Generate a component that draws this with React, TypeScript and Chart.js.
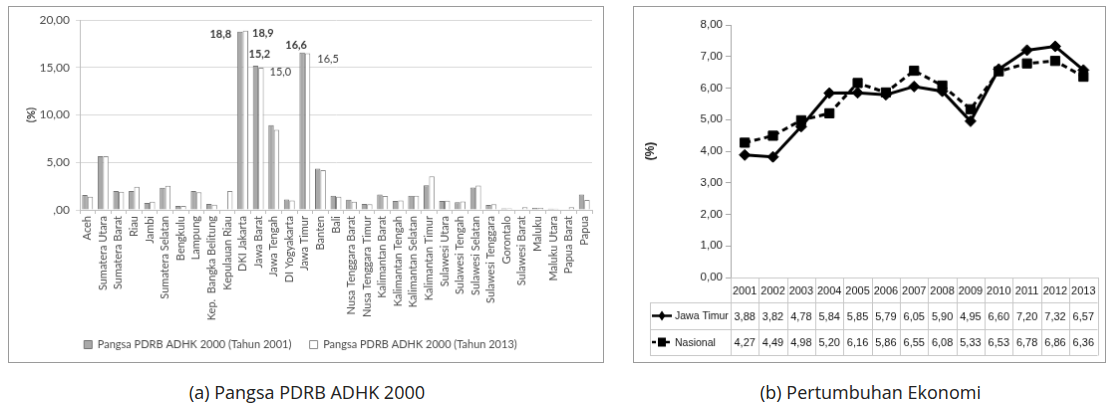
import React, { useEffect, useRef } from 'react';
import { Chart, registerables } from 'chart.js';

Chart.register(...registerables);

// ---- Chart (a): Pangsa PDRB ADHK 2000 ----
const PROVINCES = [
  'Aceh', 'Sumatera Utara', 'Sumatera Barat', 'Riau', 'Jambi', 'Sumatera Selatan', 'Bengkulu',
  'Lampung', 'Kep.  Bangka Belitung', 'Kepulauan Riau', 'DKI Jakarta', 'Jawa Barat', 'Jawa Tengah',
  'DI Yogyakarta', 'Jawa Timur', 'Banten', 'Bali', 'Nusa Tenggara Barat', 'Nusa Tenggara Timur',
  'Kalimantan Barat', 'Kalimantan Tengah', 'Kalimantan Selatan', 'Kalimantan Timur', 'Sulawesi Utara',
  'Sulawesi Tengah', 'Sulawesi Selatan', 'Sulawesi Tenggara', 'Gorontalo', 'Sulawesi Barat', 'Maluku',
  'Maluku Utara', 'Papua Barat', 'Papua',
];
const PANGSA_2001 = [
  1.57, 5.67, 2.0, 2.0, 0.73, 2.33, 0.42, 2.0, 0.63, null, 18.8, 15.2, 8.94, 1.11, 16.6, 4.35, 1.5,
  1.08, 0.63, 1.63, 0.94, 1.5, 2.6, 0.94, 0.8, 2.37, 0.52, 0.17, null, 0.2, 0.12, null, 1.63,
];
const PANGSA_2013 = [
  1.4, 5.67, 1.9, 2.43, 0.87, 2.54, 0.42, 1.85, 0.56, 2.0, 18.9, 15.0, 8.45, 1.0, 16.5, 4.2, 1.4,
  0.87, 0.6, 1.46, 1.0, 1.5, 3.55, 0.97, 0.9, 2.57, 0.6, 0.17, 0.28, 0.2, 0.12, 0.3, 1.04,
];
const LABEL_2001 = 'Pangsa PDRB ADHK 2000 (Tahun 2001)';
const LABEL_2013 = 'Pangsa PDRB ADHK 2000 (Tahun 2013)';
const LABELLED_PROVINCES = ['DKI Jakarta', 'Jawa Barat', 'Jawa Timur'];

// ---- Chart (b): Pertumbuhan Ekonomi ----
const YEARS = ['2001', '2002', '2003', '2004', '2005', '2006', '2007', '2008', '2009', '2010', '2011', '2012', '2013'];
const JAWA_TIMUR = [3.88, 3.82, 4.78, 5.84, 5.85, 5.79, 6.05, 5.9, 4.95, 6.6, 7.2, 7.32, 6.57];
const NASIONAL = [4.27, 4.49, 4.98, 5.2, 6.16, 5.86, 6.55, 6.08, 5.33, 6.53, 6.78, 6.86, 6.36];

const CAPTION_A = '(a) Pangsa PDRB ADHK 2000';
const CAPTION_B = '(b) Pertumbuhan Ekonomi';

const fmt2 = (v: number) => v.toFixed(2).replace('.', ',');
const fmt1 = (v: number) => v.toFixed(1).replace('.', ',');

const LEFT_FONT = 'Lato, "Open Sans", sans-serif';
const NARROW_FONT = '"Liberation Sans", Arial, sans-serif';

// label placement for the highlighted bars: [datasetIndex, mode, dx, dy, bold]
const LABEL_PLACEMENT: Record<string, Array<[number, string, number, number, boolean]>> = {
  'DKI Jakarta': [[0, 'left', -6, 3, true], [1, 'right', 4, 3, true]],
  'Jawa Barat': [[0, 'center', 4, -12, true], [1, 'right', 6, 5, false]],
  'Jawa Timur': [[0, 'center', -6, -7, true], [1, 'right', 7, 6, false]],
};

const barLabelPlugin = {
  id: 'barLabels',
  afterDatasetsDraw(chart: any) {
    const ctx = chart.ctx;
    ctx.save();
    ctx.fillStyle = '#3a3a3a';
    ctx.textBaseline = 'middle';
    LABELLED_PROVINCES.forEach((name) => {
      const idx = PROVINCES.indexOf(name);
      (LABEL_PLACEMENT[name] || []).forEach(([ds, mode, dx, dy, bold]) => {
        const el = chart.getDatasetMeta(ds).data[idx];
        const value = chart.data.datasets[ds].data[idx];
        if (!el || value == null) return;
        const w = el.width || 0;
        ctx.font = `${bold ? 'bold ' : ''}11px ${LEFT_FONT}`;
        let x = el.x;
        if (mode === 'left') {
          ctx.textAlign = 'right';
          x = el.x - w / 2 + dx;
        } else if (mode === 'right') {
          ctx.textAlign = 'left';
          x = el.x + w / 2 + dx;
        } else {
          ctx.textAlign = 'center';
          x = el.x + dx;
        }
        ctx.fillText(fmt1(value), x, el.y + dy);
      });
    });
    ctx.restore();
  },
};

const tablePlugin = {
  id: 'dataTable',
  afterDraw(chart: any) {
    const { ctx, chartArea } = chart;
    const n = YEARS.length;
    const left = chartArea.left;
    const right = chartArea.right;
    const colW = (right - left) / n;
    const top = chartArea.bottom;
    const r1 = top + 25;
    const r2 = r1 + 27;
    const r3 = r2 + 26;
    const legendLeft = 16;
    const px = (v: number) => Math.round(v) + 0.5;

    ctx.save();
    ctx.strokeStyle = '#c8c8c8';
    ctx.lineWidth = 1;
    ctx.beginPath();
    [r1, r2, r3].forEach((y) => {
      ctx.moveTo(legendLeft, px(y));
      ctx.lineTo(right, px(y));
    });
    for (let i = 0; i <= n; i++) {
      const x = px(left + i * colW);
      ctx.moveTo(x, top);
      ctx.lineTo(x, px(r3));
    }
    ctx.moveTo(px(legendLeft), px(r1));
    ctx.lineTo(px(legendLeft), px(r3));
    ctx.stroke();

    // values
    ctx.fillStyle = '#111';
    ctx.font = `11px ${NARROW_FONT}`;
    ctx.textAlign = 'center';
    ctx.textBaseline = 'middle';
    const xs = chart.scales.x;
    const rows = [
      { y: (r1 + r2) / 2, ds: 0 },
      { y: (r2 + r3) / 2, ds: 1 },
    ];
    rows.forEach(({ y, ds }) => {
      const data = chart.data.datasets[ds].data;
      data.forEach((v: number, i: number) => {
        ctx.fillText(fmt2(v), xs.getPixelForValue(i), y + 1);
      });
    });

    // legend keys inside the table
    rows.forEach(({ y, ds }) => {
      const dset = chart.data.datasets[ds];
      const x0 = 18;
      const x1 = 38;
      const mx = 28;
      ctx.save();
      ctx.strokeStyle = '#000';
      ctx.lineWidth = 2.5;
      if (dset.borderDash) ctx.setLineDash([4, 3]);
      ctx.beginPath();
      ctx.moveTo(x0, y);
      ctx.lineTo(x1, y);
      ctx.stroke();
      ctx.restore();
      ctx.fillStyle = '#000';
      ctx.beginPath();
      if (dset.pointStyle === 'rectRot') {
        ctx.moveTo(mx, y - 5);
        ctx.lineTo(mx + 3.5, y);
        ctx.lineTo(mx, y + 5);
        ctx.lineTo(mx - 3.5, y);
        ctx.closePath();
      } else {
        ctx.rect(mx - 4, y - 4.5, 8, 9);
      }
      ctx.fill();
      ctx.fillStyle = '#111';
      ctx.textAlign = 'left';
      ctx.font = `10.5px ${NARROW_FONT}`;
      ctx.fillText(dset.label, 41, y + 1);
    });
    ctx.restore();
  },
};

export default function App() {
  const leftRef = useRef<HTMLCanvasElement>(null);
  const rightRef = useRef<HTMLCanvasElement>(null);

  useEffect(() => {
    const left = new Chart(leftRef.current as HTMLCanvasElement, {
      type: 'bar',
      data: {
        labels: PROVINCES,
        datasets: [
          {
            label: LABEL_2001,
            data: PANGSA_2001 as any,
            backgroundColor: '#a9a9a9',
            borderColor: '#747474',
            borderWidth: 1,
            categoryPercentage: 0.7,
            barPercentage: 1,
          },
          {
            label: LABEL_2013,
            data: PANGSA_2013 as any,
            backgroundColor: '#ffffff',
            borderColor: '#8c8c8c',
            borderWidth: 1,
            categoryPercentage: 0.7,
            barPercentage: 1,
          },
        ],
      },
      options: {
        responsive: false,
        animation: false,
        layout: { padding: { top: 13, right: 11, bottom: 2, left: 0 } },
        plugins: {
          tooltip: { enabled: false },
          legend: {
            position: 'bottom',
            labels: {
              boxWidth: 8,
              boxHeight: 8,
              padding: 10,
              color: '#4a4a4a',
              font: { family: LEFT_FONT, size: 11 },
              generateLabels: (chart: any) => {
                const items = Chart.defaults.plugins.legend.labels.generateLabels(chart);
                if (items[0]) items[0].text = items[0].text + '\u2003';
                return items;
              },
            },
          },
        },
        scales: {
          x: {
            grid: { drawOnChartArea: false, tickLength: 4, color: '#bfbfbf', offset: true },
            border: { color: '#bfbfbf' },
            ticks: {
              autoSkip: false,
              minRotation: 90,
              maxRotation: 90,
              padding: 2,
              color: '#4a4a4a',
              font: { family: LEFT_FONT, size: 11 },
            },
            afterFit: (s: any) => {
              s.height = 120;
            },
          },
          y: {
            min: 0,
            max: 20,
            ticks: {
              stepSize: 5,
              padding: 6,
              color: '#4a4a4a',
              font: { family: LEFT_FONT, size: 12 },
              callback: (v: any) => (Number(v) === 0 ? ',00' : fmt2(Number(v))),
            },
            grid: { color: '#d9d9d9', tickLength: 4 },
            border: { color: '#bfbfbf' },
            title: {
              display: true,
              text: '(%)',
              color: '#333',
              font: { family: LEFT_FONT, size: 11, weight: 'bold' },
              padding: { top: 16, bottom: 0 },
            },
            afterFit: (s: any) => {
              s.width = 71;
            },
          },
        },
      },
      plugins: [barLabelPlugin],
    });

    const right = new Chart(rightRef.current as HTMLCanvasElement, {
      type: 'line',
      data: {
        labels: YEARS,
        datasets: [
          {
            label: 'Jawa Timur',
            data: JAWA_TIMUR,
            borderColor: '#000',
            backgroundColor: '#000',
            borderWidth: 3,
            pointStyle: 'rectRot',
            pointRadius: 5.5,
            pointBorderWidth: 1,
            tension: 0,
          },
          {
            label: 'Nasional',
            data: NASIONAL,
            borderColor: '#000',
            backgroundColor: '#000',
            borderWidth: 3,
            borderDash: [6, 4],
            pointStyle: 'rect',
            pointRadius: 6.5,
            pointBorderWidth: 1,
            tension: 0,
          },
        ],
      },
      options: {
        responsive: false,
        animation: false,
        layout: { padding: { top: 18, right: 2, bottom: 7, left: 0 } },
        plugins: { legend: { display: false }, tooltip: { enabled: false } },
        scales: {
          x: {
            offset: true,
            grid: { display: false, drawTicks: false },
            border: { display: true, color: '#c8c8c8' },
            ticks: {
              autoSkip: false,
              minRotation: 0,
              maxRotation: 0,
              padding: 7,
              color: '#111',
              font: { family: NARROW_FONT, size: 11 },
            },
            afterFit: (s: any) => {
              s.height = 78;
            },
          },
          y: {
            min: 0,
            max: 8,
            ticks: {
              stepSize: 1,
              padding: 3,
              color: '#222',
              font: { family: NARROW_FONT, size: 11.5 },
              callback: (v: any) => fmt2(Number(v)),
            },
            grid: { drawOnChartArea: false, tickLength: 5, color: '#a6a6a6' },
            border: { color: '#a6a6a6' },
            title: {
              display: true,
              text: '(%)',
              color: '#222',
              font: { family: NARROW_FONT, size: 12, weight: 'bold' },
              padding: { top: 9, bottom: 0 },
            },
            afterFit: (s: any) => {
              s.width = 97;
            },
          },
        },
      },
      plugins: [tablePlugin],
    });

    return () => {
      left.destroy();
      right.destroy();
    };
  }, []);

  const caption: React.CSSProperties = {
    position: 'absolute',
    top: 380,
    fontFamily: '"Open Sans", sans-serif',
    fontSize: 18,
    color: '#222',
    textAlign: 'center',
    whiteSpace: 'nowrap',
    lineHeight: '24px',
  };

  return (
    <div style={{ position: 'absolute', left: 0, top: 0, width: 1110, height: 410, background: '#fff' }}>
      <canvas
        ref={leftRef}
        width={596}
        height={357}
        style={{ position: 'absolute', left: 8, top: 6, border: '1px solid #9a9a9a' }}
      />
      <canvas
        ref={rightRef}
        width={473}
        height={357}
        style={{ position: 'absolute', left: 633, top: 6, border: '1px solid #9a9a9a' }}
      />
      <div style={{ ...caption, left: 8, width: 598 }}>{CAPTION_A}</div>
      <div style={{ ...caption, left: 633, width: 475 }}>{CAPTION_B}</div>
    </div>
  );
}
